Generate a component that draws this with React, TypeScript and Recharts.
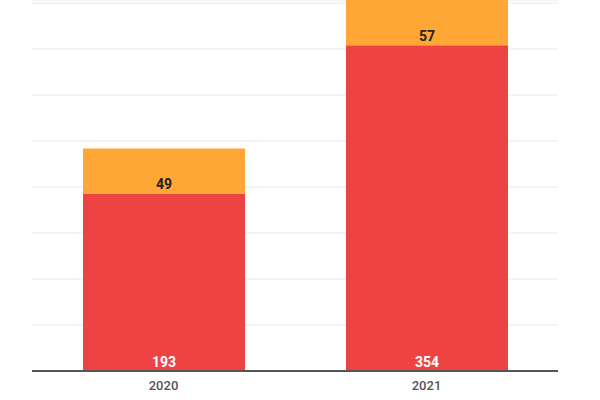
import { Bar, BarChart, CartesianGrid, LabelList, XAxis, YAxis } from "recharts";

const years = ["2020", "2021"];
const redValues = [193, 354];
const orangeValues = [49, 57];
const yTicks = [0, 50, 100, 150, 200, 250, 300, 350, 400];

const data = years.map((year, i) => ({
  year,
  red: redValues[i],
  orange: orangeValues[i],
}));

const FONT = "Roboto, 'Noto Sans', sans-serif";

export default function App() {
  return (
    <div style={{ position: "absolute", left: 0, top: 0, width: 600, height: 400, background: "#fff" }}>
      <BarChart
        width={600}
        height={400}
        data={data}
        margin={{ top: 0, right: 42, bottom: 5, left: 32 }}
        barSize={162}
      >
        <CartesianGrid vertical={false} stroke="#e8e8e8" strokeWidth={1} />
        <YAxis hide domain={[0, 403.3]} ticks={yTicks} allowDataOverflow />
        <XAxis
          dataKey="year"
          height={24}
          axisLine={{ stroke: "#555555", strokeWidth: 2 }}
          tickLine={false}
          tickMargin={4}
          tick={{ fill: "#555555", fontSize: 13, fontWeight: 500, fontFamily: FONT }}
        />
        <Bar dataKey="red" stackId="a" fill="#ee4343" isAnimationActive={false}>
          <LabelList
            dataKey="red"
            position="insideBottom"
            offset={4}
            fill="#ffffff"
            fontSize={14}
            fontWeight={700}
            fontFamily={FONT}
          />
        </Bar>
        <Bar dataKey="orange" stackId="a" fill="#fea736" isAnimationActive={false}>
          <LabelList
            dataKey="orange"
            position="insideBottom"
            offset={4}
            fill="#222222"
            fontSize={14}
            fontWeight={700}
            fontFamily={FONT}
          />
        </Bar>
      </BarChart>
    </div>
  );
}
